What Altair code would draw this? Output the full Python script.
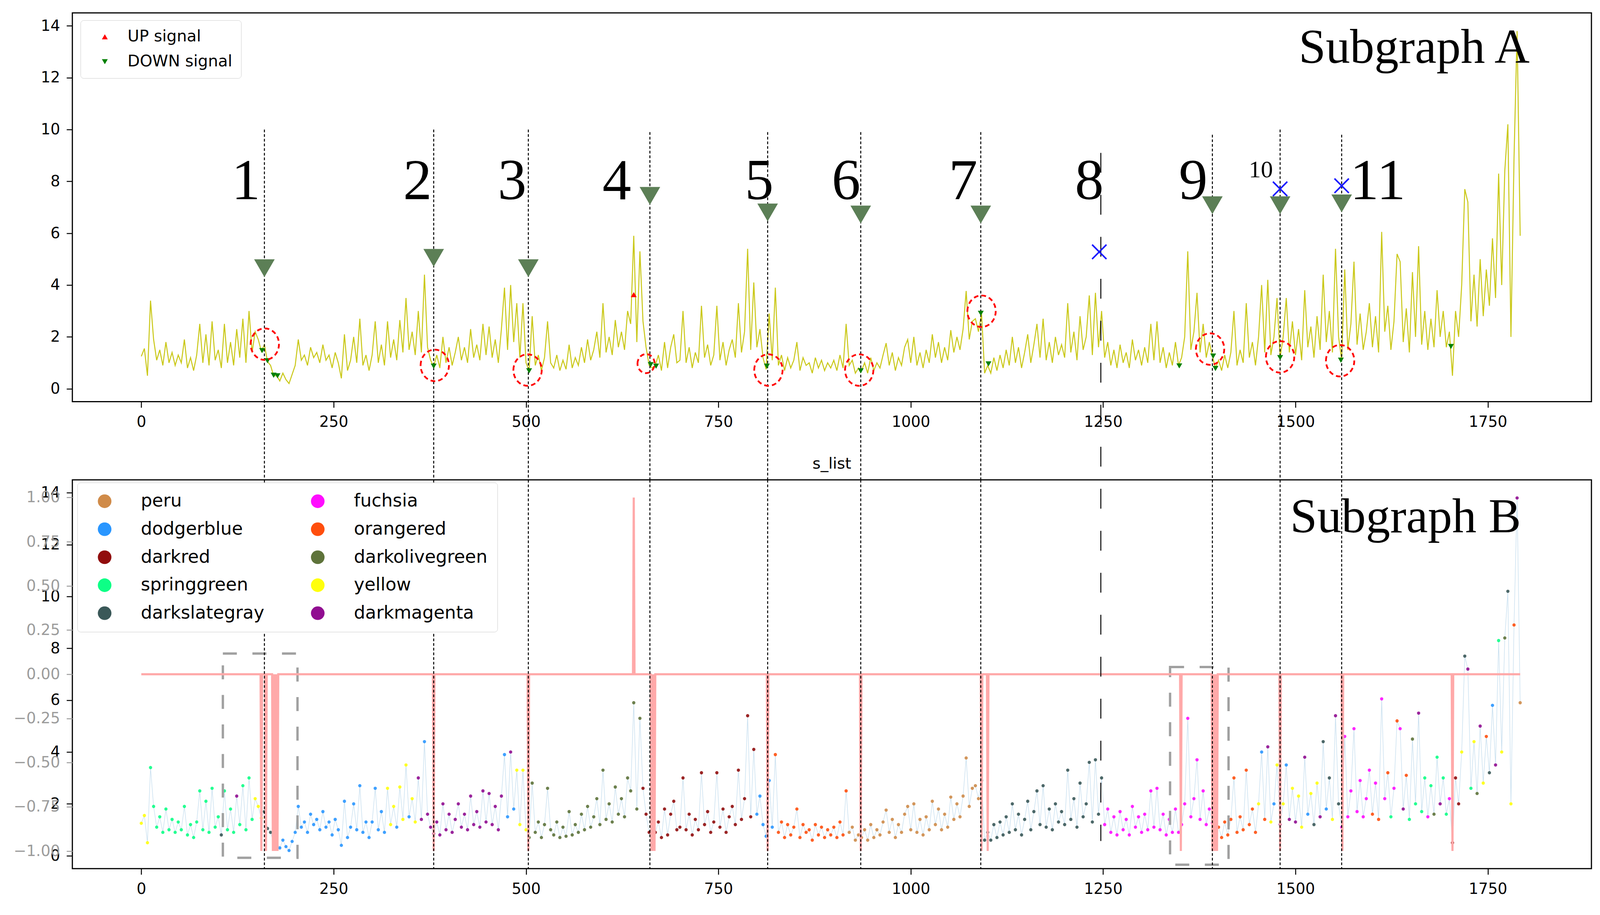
import altair as alt
import pandas as pd

# ---------------- data ----------------
# s_list, sampled every 4 steps (x = 0, 4, 8, ... 1792)
S_ROWS = [
    [1.25, 1.55, 0.5, 3.4, 1.9, 1.1, 1.5, 0.9, 1.8, 1.0, 1.4, 0.9, 1.3, 1.0, 1.9, 0.8, 1.2, 0.7, 1.3, 2.5, 1.0, 2.1, 0.9, 2.6, 1.1],
    [1.5, 0.8, 2.5, 1.0, 1.8, 0.9, 2.3, 1.2, 2.7, 1.0, 3.0, 1.4, 2.2, 1.9, 1.45, 1.7, 1.05, 0.9, 0.5, 0.5, 0.3, 0.6, 0.35, 0.2, 0.55],
    [0.9, 1.9, 1.1, 1.3, 0.9, 1.6, 1.2, 1.4, 1.0, 1.7, 1.1, 1.3, 0.8, 1.4, 1.0, 0.4, 2.1, 0.7, 1.1, 2.0, 1.0, 2.7, 0.9, 1.3, 0.7],
    [1.3, 2.6, 1.0, 1.7, 0.9, 2.6, 1.2, 1.9, 1.1, 2.65, 1.4, 3.5, 1.5, 2.2, 1.3, 3.0, 1.4, 4.4, 1.6, 1.1, 0.85, 1.3, 0.8, 2.0, 1.0],
    [1.6, 0.9, 1.4, 2.0, 1.1, 1.6, 1.0, 2.3, 1.2, 1.7, 1.1, 2.5, 1.3, 2.4, 1.2, 1.9, 1.0, 2.3, 3.9, 1.5, 4.0, 1.8, 3.3, 1.2, 3.3],
    [1.0, 0.7, 2.8, 0.9, 1.3, 0.7, 1.2, 2.6, 1.0, 0.8, 1.3, 0.7, 1.1, 0.75, 1.7, 0.8, 1.2, 0.9, 1.6, 1.0, 1.9, 1.1, 1.5, 2.2, 1.2],
    [3.3, 1.4, 2.0, 1.3, 2.65, 1.6, 2.2, 1.5, 3.0, 2.5, 5.9, 1.8, 5.3, 2.6, 1.6, 0.9, 0.8, 0.9, 1.3, 0.7, 1.8, 0.8, 1.6, 2.1, 1.0],
    [1.1, 3.0, 1.0, 1.6, 0.8, 1.4, 1.0, 3.2, 1.2, 1.7, 0.9, 1.3, 3.2, 1.1, 1.8, 0.9, 1.5, 1.9, 1.2, 3.3, 1.4, 2.2, 5.4, 1.5, 4.1],
    [1.6, 2.3, 1.2, 0.75, 2.9, 1.1, 3.9, 0.9, 1.3, 0.7, 1.2, 0.8, 1.1, 1.8, 0.7, 1.2, 0.9, 1.0, 0.6, 1.2, 0.8, 1.1, 0.7, 1.0, 0.8],
    [1.1, 0.7, 1.3, 0.8, 2.5, 0.9, 1.1, 0.6, 0.8, 0.7, 1.0, 0.6, 1.2, 0.7, 1.0, 0.8, 1.3, 1.76, 0.9, 1.4, 0.7, 1.2, 0.9, 1.6, 1.9],
    [1.0, 2.0, 0.9, 1.4, 0.8, 1.5, 1.0, 2.1, 1.2, 1.8, 1.0, 1.6, 1.1, 2.26, 1.4, 2.0, 1.5, 2.3, 3.77, 1.9, 2.6, 2.7, 2.2, 2.9, 0.6],
    [0.9, 0.6, 1.2, 0.7, 1.3, 0.8, 1.5, 0.9, 2.0, 1.0, 1.6, 0.8, 1.4, 2.1, 1.0, 1.7, 2.5, 1.2, 2.7, 1.1, 1.8, 1.0, 2.0, 1.3, 1.7],
    [1.2, 3.3, 1.4, 2.2, 1.1, 2.8, 1.5, 2.0, 3.6, 1.3, 3.7, 1.6, 3.0, 1.2, 1.8, 0.9, 1.5, 0.8, 1.7, 1.0, 1.4, 0.8, 1.9, 1.1, 1.5],
    [0.9, 1.6, 1.0, 2.5, 1.1, 2.6, 1.0, 1.6, 0.8, 1.4, 0.9, 1.8, 0.9, 1.2, 2.0, 5.3, 1.5, 2.2, 3.7, 1.4, 2.5, 1.2, 1.8, 1.26, 0.8],
    [1.1, 0.7, 1.3, 0.8, 1.4, 3.0, 0.9, 1.5, 1.0, 3.3, 1.2, 1.8, 0.9, 2.0, 4.0, 1.4, 4.2, 1.3, 2.0, 3.5, 1.2, 2.0, 3.5, 1.4, 2.6],
    [1.3, 2.3, 1.1, 3.8, 1.6, 2.4, 1.2, 2.8, 1.5, 4.4, 1.8, 3.0, 1.4, 5.4, 2.0, 1.1, 4.6, 1.5, 2.5, 4.9, 1.7, 2.9, 1.5, 2.2, 3.3],
    [1.6, 2.8, 1.4, 6.05, 2.2, 3.2, 1.5, 2.6, 5.2, 4.9, 1.8, 3.1, 1.4, 4.5, 2.0, 5.5, 1.7, 3.0, 1.5, 2.7, 1.6, 3.8, 2.0, 3.0, 1.6],
    [2.2, 0.5, 3.0, 2.0, 4.0, 7.7, 7.2, 2.6, 4.4, 2.4, 5.0, 2.8, 4.6, 3.2, 5.8, 3.5, 8.3, 4.0, 8.4, 10.2, 2.0, 8.9, 13.8, 5.9],
]
S_STEP = 4

# cluster colour of each sampled point (runs and mixed stretches, left to right)
CLUSTER_SEGMENTS = [
    ("yellow", 3), ("springgreen", 23), ("darkslategray", 1), ("springgreen", 4),
    ("darkmagenta", 1), ("springgreen", 5), ("yellow", 3), ("darkslategray", 5),
    ("dodgerblue", 35), ("yellow", 3), ("dodgerblue", 1), ("yellow", 3),
    ("dodgerblue", 1), ("yellow", 2), ("darkmagenta", 2), ("dodgerblue", 1),
    ("darkmagenta", 2), ("darkmagenta", 23), ("dodgerblue", 2), ("darkmagenta", 1),
    ("dodgerblue", 1), ("yellow", 4), ("darkolivegreen", 37), ("darkred", 37),
    ("dodgerblue", 6), ("orangered", 24), ("peru", 43), ("darkslategray", 40),
    ("fuchsia", 36), ("orangered", 14),
    "yellow dodgerblue orangered darkmagenta yellow dodgerblue yellow darkmagenta yellow dodgerblue darkmagenta yellow",
    "darkmagenta yellow yellow darkmagenta dodgerblue yellow darkslategray yellow darkmagenta darkslategray dodgerblue darkslategray yellow darkmagenta darkslategray",
    ("fuchsia", 10),
    "orangered fuchsia orangered fuchsia fuchsia orangered springgreen fuchsia orangered fuchsia darkmagenta orangered",
    "springgreen darkolivegreen springgreen darkmagenta springgreen springgreen fuchsia springgreen darkolivegreen springgreen darkmagenta springgreen springgreen fuchsia",
    ("darkred", 3),
    "yellow darkslategray darkmagenta springgreen yellow darkolivegreen darkmagenta yellow orangered darkslategray dodgerblue darkmagenta springgreen yellow darkolivegreen darkslategray yellow orangered darkmagenta peru",
]

LEGEND_ORDER = ["peru", "dodgerblue", "darkred", "springgreen", "darkslategray",
                "fuchsia", "orangered", "darkolivegreen", "yellow", "darkmagenta"]

# signal series (-1 / 0 / +1)
SIGNAL_LENGTH = 1793
SIGNAL_DOWN_IDX = [156, 162, 171, 173, 175, 177, 380, 503, 663, 665, 667, 814, 935,
                   1092, 1100, 1351, 1392, 1394, 1396, 1398, 1480, 1561, 1704]
SIGNAL_UP_IDX = [640]

# small signal markers on the line
DOWN_X = [157, 164, 172, 177, 380, 504, 662, 669, 813, 935, 1091, 1101, 1349, 1393, 1396, 1480, 1559, 1702]
DOWN_Y = [1.47, 1.08, 0.52, 0.5, 0.87, 0.69, 0.93, 0.87, 0.87, 0.69, 2.91, 0.96, 0.88, 1.26, 0.78, 1.2, 1.1, 1.63]
UP_X = [640]
UP_Y = [3.63]

# change points
LINE_X = [160, 380, 503, 661, 814, 935, 1091, 1392, 1480, 1560]
LINE_TOP = [10.0, 10.0, 10.0, 9.9, 9.9, 9.9, 9.9, 9.8, 10.0, 9.8]
DASH_X = [1247]
DASH_TOP = [9.1]
BIG_TRI_X = [160, 380, 503, 661, 814, 935, 1091, 1392, 1480, 1560]
BIG_TRI_Y = [4.65, 5.05, 4.65, 7.44, 6.8, 6.72, 6.72, 7.08, 7.08, 7.15]
CROSS_X = [1245, 1480, 1560]
CROSS_Y = [5.28, 7.71, 7.83]
RING_X = [160.5, 381.4, 502, 656, 815, 933, 1092, 1389, 1480, 1558]
RING_Y = [1.72, 0.9, 0.72, 0.97, 0.72, 0.72, 2.99, 1.53, 1.23, 1.08]
NUM_LABELS = ["1", "2", "3", "4", "5", "6", "7", "8", "9", "10", "11"]
NUM_X = [136, 359, 482, 618, 803, 916, 1068, 1232, 1367, 1455, 1607]
NUM_Y = [7.32, 7.32, 7.32, 7.32, 7.32, 7.32, 7.32, 7.32, 7.32, 8.15, 7.32]

# grey dashed boxes in subgraph B
BOX_X = [106, 1337]
BOX_X2 = [203, 1413]
BOX_Y = [7.8, 7.28]
BOX_Y2 = [-0.08, -0.35]

X_TICKS = [0, 250, 500, 750, 1000, 1250, 1500, 1750]
Y_TICKS = [0, 2, 4, 6, 8, 10, 12, 14]
Y2_TICKS = [-1.0, -0.75, -0.5, -0.25, 0.0, 0.25, 0.5, 0.75, 1.0]

# ---------------- tables ----------------
s_values = [v for row in S_ROWS for v in row]
clusters = []
for seg in CLUSTER_SEGMENTS:
    if isinstance(seg, tuple):
        clusters += [seg[0]] * seg[1]
    else:
        clusters += seg.split()
clusters = (clusters + [clusters[-1]] * len(s_values))[:len(s_values)]
df_s = pd.DataFrame({"x": [i * S_STEP for i in range(len(s_values))],
                     "v": s_values, "cluster": clusters})

sig = [0] * SIGNAL_LENGTH
for i in SIGNAL_DOWN_IDX:
    sig[i] = -1
for i in SIGNAL_UP_IDX:
    sig[i] = 1
df_sig = pd.DataFrame({"x": list(range(SIGNAL_LENGTH)), "sig": sig})

df_marks = pd.DataFrame({"x": UP_X + DOWN_X, "y": UP_Y + DOWN_Y,
                         "kind": ["UP signal"] * len(UP_X) + ["DOWN signal"] * len(DOWN_X)})
df_lines = pd.DataFrame({"x": LINE_X, "top": LINE_TOP})
df_dash = pd.DataFrame({"x": DASH_X, "top": DASH_TOP})
df_tri = pd.DataFrame({"x": BIG_TRI_X, "y": BIG_TRI_Y})
df_cross = pd.DataFrame({"x": CROSS_X, "y": CROSS_Y})
ring_size = [6561, 6561, 6561, 2401, 6561, 6561, 6561, 6561, 6561, 6561]
df_ring = pd.DataFrame({"x": RING_X, "y": RING_Y, "sz": ring_size})
num_fs = [148 if t != "10" else 62 for t in NUM_LABELS]
df_num = pd.DataFrame({"x": NUM_X, "y": NUM_Y, "label": NUM_LABELS, "fs": num_fs})
df_box = pd.DataFrame({"x": BOX_X, "x2": BOX_X2, "y": BOX_Y, "y2": BOX_Y2})

# ---------------- layout / style ----------------
W, H, GAP = 3906, 1000, 201
FONT = "DejaVu Sans"
SERIF = "Liberation Serif"

XS = alt.Scale(domain=[-89.6, 1884.6], nice=False, zero=False)
YS = alt.Scale(domain=[-0.5, 14.5], nice=False, zero=False)
Y2S = alt.Scale(domain=[-1.1, 1.1], nice=False, zero=False)

x_axis = alt.Axis(values=X_TICKS, format="d", title=None, grid=False, domain=False,
                  labelFont=FONT, labelFontSize=39, labelColor="black",
                  tickColor="black", tickSize=15, tickWidth=2.5, labelPadding=18)
y_axis = alt.Axis(values=Y_TICKS, format="d", title=None, grid=False, domain=False, orient="left",
                  labelFont=FONT, labelFontSize=39, labelColor="black",
                  tickColor="black", tickSize=15, tickWidth=2.5, labelPadding=17)
y2_axis = alt.Axis(values=Y2_TICKS, format=".2f", title=None, grid=False, domain=False, orient="left",
                   labelFont=FONT, labelFontSize=39, labelColor="#9c9c9c",
                   tickColor="#9c9c9c", tickSize=15, tickWidth=2.5, labelPadding=17)

X = alt.X("x:Q", scale=XS, axis=x_axis)
Y = alt.Y("y:Q", scale=YS, axis=y_axis)

# ---------------- subgraph A ----------------
line_a = alt.Chart(df_s).mark_line(color="#c4c200", strokeWidth=2.6, opacity=0.9).encode(
    x=X, y=alt.Y("v:Q", scale=YS, axis=y_axis))

rules_a = alt.Chart(df_lines).mark_rule(color="black", strokeWidth=2.5, strokeDash=[7, 5]).encode(
    x=X, y=alt.Y("top:Q", scale=YS, axis=y_axis), y2=alt.value(H + GAP))
dash_a = alt.Chart(df_dash).mark_rule(color="black", strokeWidth=2.5, strokeDash=[51, 57]).encode(
    x=X, y=alt.Y("top:Q", scale=YS, axis=y_axis), y2=alt.value(H + GAP))

sig_legend = alt.Legend(title=None, orient="none", legendX=21, legendY=19,
                        labelFont=FONT, labelFontSize=41, labelColor="black", labelLimit=1000,
                        symbolSize=230, symbolOpacity=1, symbolStrokeWidth=0,
                        padding=22, rowPadding=22, labelOffset=38, symbolOffset=20,
                        strokeColor="#cccccc", fillColor="white", cornerRadius=8)
marks_a = alt.Chart(df_marks).mark_point(filled=True, size=230, opacity=1).encode(
    x=X, y=Y,
    color=alt.Color("kind:N", scale=alt.Scale(domain=["UP signal", "DOWN signal"], range=["red", "green"]),
                    legend=sig_legend),
    shape=alt.Shape("kind:N", scale=alt.Scale(domain=["UP signal", "DOWN signal"],
                                              range=["triangle-up", "triangle-down"]),
                    legend=sig_legend))

tri_a = alt.Chart(df_tri).mark_point(shape="triangle-down", filled=True, color="#5c7f56",
                                     size=2800, opacity=1).encode(x=X, y=Y)
cross_a = alt.Chart(df_cross).mark_point(shape="M-1,-1L1,1M-1,1L1,-1", filled=False, color="#1a1aff",
                                         strokeWidth=4, size=1369, opacity=1).encode(x=X, y=Y)
ring_a = alt.Chart(df_ring).mark_point(shape="M-0.9,0A0.9,1 0 1,1 0.9,0A0.9,1 0 1,1 -0.9,0Z",
                                       filled=False, color="red", strokeWidth=4.5,
                                       strokeDash=[12, 8], opacity=1).encode(
    x=X, y=Y, size=alt.Size("sz:Q", scale=None))
num_a = alt.Chart(df_num).mark_text(font=SERIF, color="black", align="center",
                                    baseline="alphabetic").encode(
    x=X, y=Y, text="label:N", size=alt.Size("fs:Q", scale=None))
title_a = alt.Chart(pd.DataFrame({"t": ["Subgraph A"]})).mark_text(
    font=SERIF, fontSize=125, color="black", align="right", baseline="alphabetic").encode(
    text="t:N", x=alt.value(3747), y=alt.value(129))

top = alt.layer(line_a, rules_a, dash_a, marks_a, ring_a, tri_a, cross_a, num_a, title_a).properties(
    width=W, height=H)

# ---------------- subgraph B ----------------
clu_legend = alt.Legend(title=None, orient="none", legendX=13, legendY=7, columns=2,
                        labelFont=FONT, labelFontSize=46, labelColor="black", labelLimit=1000,
                        symbolType="circle", symbolSize=1225, symbolOpacity=0.95, symbolStrokeWidth=0,
                        padding=25, rowPadding=26, columnPadding=92, labelOffset=70, symbolOffset=22,
                        strokeColor="#cccccc", fillColor="white", cornerRadius=8)

conn_b = alt.Chart(df_s).mark_line(color="#a9cde6", strokeWidth=1.5, opacity=0.6).encode(
    x=X, y=alt.Y("v:Q", scale=YS, axis=y_axis))
pts_b = alt.Chart(df_s).mark_circle(size=70, opacity=0.85).encode(
    x=X, y=alt.Y("v:Q", scale=YS, axis=y_axis),
    color=alt.Color("cluster:N", scale=alt.Scale(domain=LEGEND_ORDER, range=LEGEND_ORDER),
                    legend=clu_legend))
box_b = alt.Chart(df_box).mark_rect(filled=False, stroke="#a0a0a0", strokeWidth=6,
                                    strokeDash=[36, 40]).encode(
    x=X, x2="x2:Q", y=Y, y2="y2:Q")
inner_b = alt.layer(conn_b, pts_b, box_b)

sig_b = alt.Chart(df_sig).mark_line(color="#ffa9a9", strokeWidth=5.5).encode(
    x=X, y=alt.Y("sig:Q", scale=Y2S, axis=y2_axis))
rules_b = alt.Chart(df_lines).mark_rule(color="black", strokeWidth=2.5, strokeDash=[7, 5]).encode(
    x=X, y=alt.value(0), y2=alt.value(H))
dash_b = alt.Chart(df_dash).mark_rule(color="black", strokeWidth=2.5, strokeDash=[51, 57],
                                      strokeDashOffset=85).encode(
    x=X, y=alt.value(0), y2=alt.value(929))
title_b = alt.Chart(pd.DataFrame({"t": ["Subgraph B"]})).mark_text(
    font=SERIF, fontSize=125, color="black", align="right", baseline="alphabetic").encode(
    text="t:N", x=alt.value(3725), y=alt.value(135))

bottom = alt.layer(inner_b, sig_b, rules_b, dash_b, title_b).resolve_scale(y="independent").properties(
    width=W, height=H,
    title=alt.TitleParams("s_list", font=FONT, fontSize=40, fontWeight="normal", color="black",
                          anchor="middle", baseline="bottom", frame="group", offset=-20))

chart = alt.vconcat(top, bottom, spacing=GAP, bounds="flush").resolve_scale(
    color="independent", shape="independent").resolve_legend(
    color="independent", shape="independent").properties(
    padding={"left": 24, "top": 18, "right": 12, "bottom": 12},
    background="white").configure_view(stroke="black", strokeWidth=3)

chart.save("out.html", embed_options={"renderer": "svg", "actions": False})
